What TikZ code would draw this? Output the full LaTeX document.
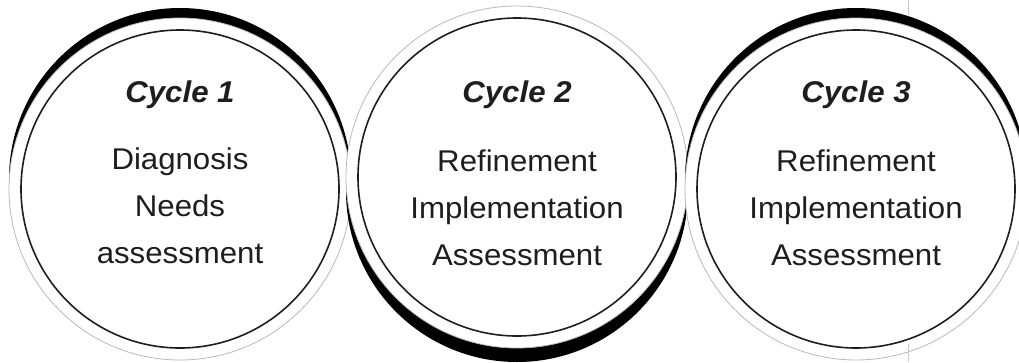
\documentclass[tikz,border=0pt]{standalone}
\usepackage{fontspec}
\setmainfont{Liberation Sans}[FakeStretch=1.04]
\usetikzlibrary{positioning}
\definecolor{rimgray}{RGB}{185,185,185}
\definecolor{inkdark}{RGB}{30,30,30}
\definecolor{frameblue}{RGB}{180,205,230}

\begin{document}
\begin{tikzpicture}[x=1pt, y=-1pt,
    shade/.style={fill=black},
    rim/.style={draw=rimgray, line width=0.8pt, fill=white},
    cyclering/.style={circle, draw=inkdark, line width=1.6pt, fill=white, minimum size=318pt, inner sep=0pt},
    cycletitle/.style={font=\fontsize{30}{36}\selectfont\bfseries\itshape, text=inkdark, anchor=base, inner sep=0pt},
    cycletext/.style={font=\fontsize{30}{47}\selectfont, text=inkdark, align=center, anchor=base, inner sep=0pt}]
    \clip (0,0) rectangle (1019,362);
    \useasboundingbox (0,0) rectangle (1019,362);

    % Rims {c1, c2, c3}
    \fill [shade] (180,179) circle (171);
    \path [rim]   (180,189) circle (171);
    \node [cyclering] (c1) at (180,189) {};

    \fill [shade] (517,191) circle (171);
    \path [rim]   (517,177) circle (171);
    \node [cyclering] (c2) at (517,177) {};

    \fill [shade] (856,179) circle (171);
    \path [rim]   (856,189) circle (171);
    \node [cyclering] (c3) at (856,189) {};

    % Frame edge
    \draw [frameblue, line width=0.8pt] (908,0) -- (908,15);
    \draw [frameblue, line width=0.8pt] (908,344) -- (908,362);

    % Texts (base = last line)
    \node [cycletitle] (t1) at (180,102) {Cycle 1};
    \node [cycletext]  (b1) at (180,263) {Diagnosis\\Needs\\assessment};
    \node [cycletitle] (t2) at (517,102) {Cycle 2};
    \node [cycletext]  (b2) at (517,265) {Refinement\\Implementation\\Assessment};
    \node [cycletitle] (t3) at (856,102) {Cycle 3};
    \node [cycletext]  (b3) at (856,265) {Refinement\\Implementation\\Assessment};

\end{tikzpicture}
\end{document}
